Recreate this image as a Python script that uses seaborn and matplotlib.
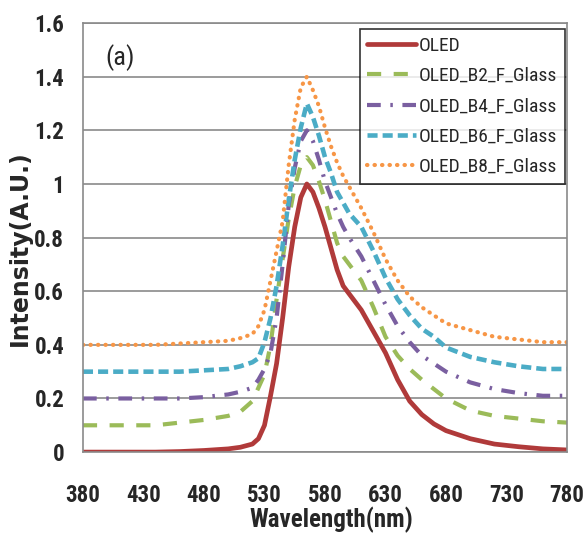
import matplotlib
matplotlib.use("Agg")
import matplotlib.pyplot as plt
from matplotlib import font_manager
from matplotlib.font_manager import FontProperties
import seaborn as sns
import pandas as pd

# wavelength grid (nm) and intensities
wavelength = [380, 400, 420, 440, 460, 480, 500, 510, 520, 525, 530, 535, 540, 545, 550, 555, 560,
              565, 570, 575, 580, 585, 590, 595, 600, 610, 620, 630, 640, 650, 660, 670, 680,
              700, 720, 740, 760, 780]

oled = [0, 0, 0, 0, 0.002, 0.006, 0.012, 0.018, 0.03, 0.05, 0.10, 0.21, 0.33, 0.50, 0.69, 0.84, 0.95,
        1.0, 0.97, 0.91, 0.84, 0.76, 0.68, 0.62, 0.59, 0.53, 0.45, 0.37, 0.27, 0.19, 0.14, 0.105, 0.08,
        0.05, 0.03, 0.02, 0.012, 0.008]
b2 = [0.1, 0.1, 0.1, 0.1, 0.11, 0.12, 0.135, 0.15, 0.19, 0.24, 0.29, 0.40, 0.57, 0.72, 0.87, 0.99, 1.07,
      1.1, 1.07, 1.01, 0.94, 0.86, 0.78, 0.73, 0.70, 0.64, 0.54, 0.43, 0.36, 0.31, 0.27, 0.235, 0.20,
      0.155, 0.135, 0.125, 0.115, 0.11]
b4 = [0.2, 0.2, 0.2, 0.2, 0.2, 0.205, 0.215, 0.225, 0.24, 0.27, 0.31, 0.37, 0.50, 0.70, 0.92, 1.06, 1.16,
      1.2, 1.16, 1.09, 1.01, 0.95, 0.89, 0.84, 0.80, 0.73, 0.64, 0.55, 0.47, 0.41, 0.36, 0.33, 0.30,
      0.26, 0.235, 0.22, 0.21, 0.21]
b6 = [0.3, 0.3, 0.3, 0.3, 0.3, 0.305, 0.31, 0.32, 0.335, 0.35, 0.41, 0.50, 0.62, 0.77, 0.94, 1.09, 1.21,
      1.3, 1.25, 1.18, 1.10, 1.04, 0.97, 0.93, 0.89, 0.84, 0.75, 0.65, 0.57, 0.51, 0.46, 0.43, 0.39,
      0.355, 0.335, 0.32, 0.31, 0.31]
b8 = [0.4, 0.4, 0.4, 0.4, 0.405, 0.41, 0.415, 0.425, 0.44, 0.47, 0.53, 0.64, 0.75, 0.86, 1.07, 1.24, 1.36,
      1.4, 1.35, 1.29, 1.21, 1.14, 1.08, 1.03, 0.99, 0.91, 0.82, 0.72, 0.64, 0.58, 0.54, 0.51, 0.48,
      0.455, 0.43, 0.42, 0.41, 0.41]

names = ['OLED', 'OLED_B2_F_Glass', 'OLED_B4_F_Glass', 'OLED_B6_F_Glass', 'OLED_B8_F_Glass']
x_ticks = [380, 430, 480, 530, 580, 630, 680, 730, 780]
y_ticks = [0, 0.2, 0.4, 0.6, 0.8, 1.0, 1.2, 1.4, 1.6]
y_tick_labels = ['0', '0.2', '0.4', '0.6', '0.8', '1', '1.2', '1.4', '1.6']

colors = {'OLED': '#B03A3A', 'OLED_B2_F_Glass': '#9BBB59', 'OLED_B4_F_Glass': '#7A5FA0',
          'OLED_B6_F_Glass': '#4BACC6', 'OLED_B8_F_Glass': '#F79646'}
dashes = {'OLED': '', 'OLED_B2_F_Glass': (3.4, 3.0), 'OLED_B4_F_Glass': (3.3, 2.3, 0.6, 2.3),
          'OLED_B6_F_Glass': (2.2, 1.1), 'OLED_B8_F_Glass': (0.1, 1.7)}

df = pd.concat([pd.DataFrame({'wl': wavelength, 'val': v, 'series': n})
                for n, v in zip(names, [oled, b2, b4, b6, b8])], ignore_index=True)

sns.set_style("white")


def is_bold(f):
    w = f.weight
    if isinstance(w, str):
        return w in ('bold', 'heavy', 'black', 'extra bold', 'demibold', 'semibold')
    return w >= 600


def pick_narrow(bold):
    # look for a condensed sans face (Calibri-like look of the original)
    cands = []
    for f in font_manager.fontManager.ttflist:
        nm = f.name
        if 'Mono' in nm or 'Serif' in nm or f.style != 'normal':
            continue
        cond = ('Narrow' in nm or 'Condensed' in nm or
                str(f.stretch) in ('condensed', 'semi-condensed', 'extra-condensed'))
        if cond and is_bold(f) == bold:
            rank = 0 if 'Liberation' in nm else 1 if 'Roboto' in nm else 2 if 'Open' in nm else 3
            cands.append((rank, f.fname))
    if cands:
        return sorted(cands)[0][1]
    return None


nb = pick_narrow(True)
nr = pick_narrow(False)
scale = 1.0 if nb else 0.84


def fp(bold, size):
    path = nb if bold else nr
    if path:
        return FontProperties(fname=path, size=size)
    return FontProperties(family='Liberation Sans', weight='bold' if bold else 'normal', size=size * scale)


fig = plt.figure(figsize=(5.84, 5.5), dpi=100)
ax = fig.add_axes([0.142, 0.178, 0.829, 0.780])

sns.lineplot(data=df, x='wl', y='val', hue='series', style='series', palette=colors,
             dashes=dashes, hue_order=names, style_order=names, linewidth=3, legend=False,
             errorbar=None, ax=ax)
for line, lw in zip(ax.lines, [3.4, 3.0, 3.0, 3.3, 3.0]):
    line.set_linewidth(lw)
    line.set_dash_capstyle('butt')
ax.lines[4].set_dash_capstyle('round')

ax.set_xlim(380, 780)
ax.set_ylim(0, 1.6)
ax.set_xticks(x_ticks)
ax.set_xticklabels([str(t) for t in x_ticks])
ax.set_yticks(y_ticks)
ax.set_yticklabels(y_tick_labels)
ax.grid(axis='y', color='#8a8a8a', linewidth=1.2)
ax.set_axisbelow(True)
for s in ax.spines.values():
    s.set_color('#8a8a8a')
    s.set_linewidth(1.2)

ax.tick_params(axis='x', length=0, pad=23)
ax.tick_params(axis='y', length=4.5, width=1.2, color='#8a8a8a', pad=9)
for lab in ax.get_xticklabels() + ax.get_yticklabels():
    lab.set_fontproperties(fp(True, 16.5))

ax.set_xlabel('Wavelength(nm)', fontproperties=fp(True, 18))
ax.xaxis.set_label_coords(0.514, -0.158)
ax.xaxis.label.set_verticalalignment('center')
ax.set_ylabel('Intensity(A.U.)', fontfamily='DejaVu Sans', fontweight='bold', fontsize=17)
ax.yaxis.set_label_coords(-0.130, 0.476)
ax.yaxis.label.set_verticalalignment('center')

ax.text(0.076, 0.92, '(a)', transform=ax.transAxes, fontproperties=fp(False, 19),
        ha='center', va='center')

leg = ax.legend(handles=ax.lines[:5], labels=names, loc='upper right',
                bbox_to_anchor=(0.996, 0.986), frameon=True, fancybox=False,
                prop=fp(False, 14), handlelength=2.5, handletextpad=0.15,
                labelspacing=0.63, borderpad=0.4, borderaxespad=0)
leg.get_frame().set_edgecolor('black')
leg.get_frame().set_linewidth(1.2)

fig.savefig('out.png', dpi=100)
